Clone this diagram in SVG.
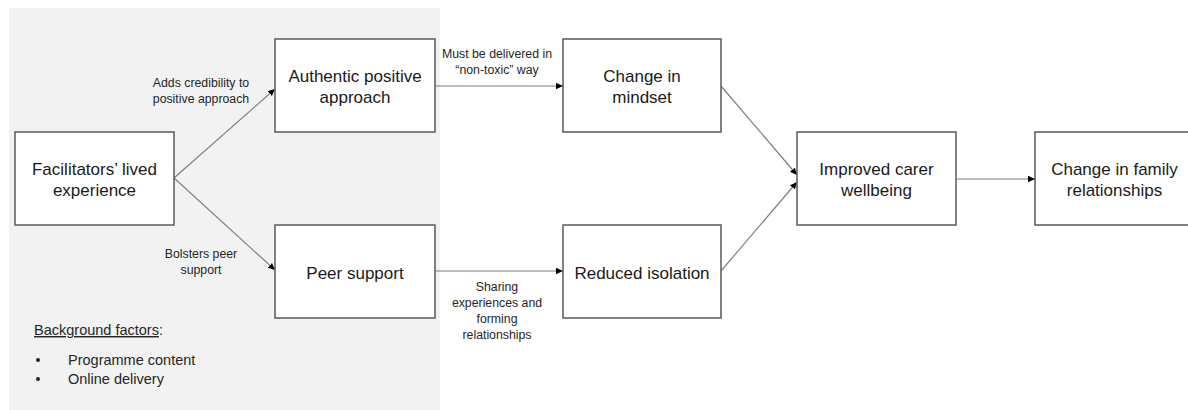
<svg xmlns="http://www.w3.org/2000/svg" width="1188" height="410" viewBox="0 0 1188 410">
<defs>
<style>
.box{fill:#fff;stroke:#595959;stroke-width:1.5}
.nt{font-family:"Liberation Sans",Arial,sans-serif;font-size:17px;fill:#1a1a1a;text-anchor:middle}
.lt{font-family:"Liberation Sans",Arial,sans-serif;font-size:12.3px;fill:#262626;text-anchor:middle}
.bt{font-family:"Liberation Sans",Arial,sans-serif;font-size:14.5px;fill:#262626}
.ln{stroke:#7f7f7f;stroke-width:1.2;fill:none;marker-end:url(#arr)}
</style>
<marker id="arr" markerWidth="8" markerHeight="8" refX="7" refY="4" orient="auto" markerUnits="userSpaceOnUse">
<path d="M0,0.8 L7,4 L0,7.2 Z" fill="#000"/>
</marker>
</defs>
<rect x="9" y="8" width="431" height="402" fill="#f2f2f2"/>
<g id="connectors">
<line class="ln" x1="174" y1="178" x2="275" y2="89"/>
<line class="ln" x1="174" y1="178" x2="275" y2="270"/>
<line class="ln" x1="435" y1="86" x2="563" y2="86"/>
<line class="ln" x1="435" y1="271" x2="563" y2="271"/>
<line class="ln" x1="721" y1="86" x2="797" y2="175"/>
<line class="ln" x1="721" y1="271" x2="797" y2="182"/>
<line class="ln" x1="956" y1="179" x2="1035" y2="179"/>
<text class="lt" x="201" y="87">Adds credibility to</text>
<text class="lt" x="201" y="103">positive approach</text>
<text class="lt" x="201" y="258">Bolsters peer</text>
<text class="lt" x="201" y="274">support</text>
<text class="lt" x="497" y="58">Must be delivered in</text>
<text class="lt" x="497" y="74">“non-toxic” way</text>
<text class="lt" x="497" y="291">Sharing</text>
<text class="lt" x="497" y="307">experiences and</text>
<text class="lt" x="497" y="323">forming</text>
<text class="lt" x="497" y="339">relationships</text>
</g>
<g id="facilitators">
<rect class="box" x="15" y="132" width="159" height="93"/>
<text class="nt" x="94.5" y="175">Facilitators’ lived</text>
<text class="nt" x="94.5" y="196">experience</text>
</g>
<g id="authentic">
<rect class="box" x="275" y="39" width="160" height="93"/>
<text class="nt" x="355" y="82">Authentic positive</text>
<text class="nt" x="355" y="103">approach</text>
</g>
<g id="peer">
<rect class="box" x="275" y="225" width="160" height="93"/>
<text class="nt" x="355" y="279">Peer support</text>
</g>
<g id="mindset">
<rect class="box" x="563" y="39" width="158" height="93"/>
<text class="nt" x="642" y="82">Change in</text>
<text class="nt" x="642" y="103">mindset</text>
</g>
<g id="isolation">
<rect class="box" x="563" y="225" width="158" height="93"/>
<text class="nt" x="642" y="279">Reduced isolation</text>
</g>
<g id="wellbeing">
<rect class="box" x="797" y="132" width="159" height="93"/>
<text class="nt" x="876.5" y="175">Improved carer</text>
<text class="nt" x="876.5" y="196">wellbeing</text>
</g>
<g id="family">
<rect class="box" x="1035" y="132" width="159" height="93"/>
<text class="nt" x="1114.5" y="175">Change in family</text>
<text class="nt" x="1114.5" y="196">relationships</text>
</g>
<g id="background">
<text class="bt" x="34" y="335"><tspan text-decoration="underline">Background factors</tspan>:</text>
<circle cx="38" cy="360" r="2" fill="#262626"/>
<circle cx="38" cy="379" r="2" fill="#262626"/>
<text class="bt" x="68" y="365">Programme content</text>
<text class="bt" x="68" y="384">Online delivery</text>
</g>
</svg>
